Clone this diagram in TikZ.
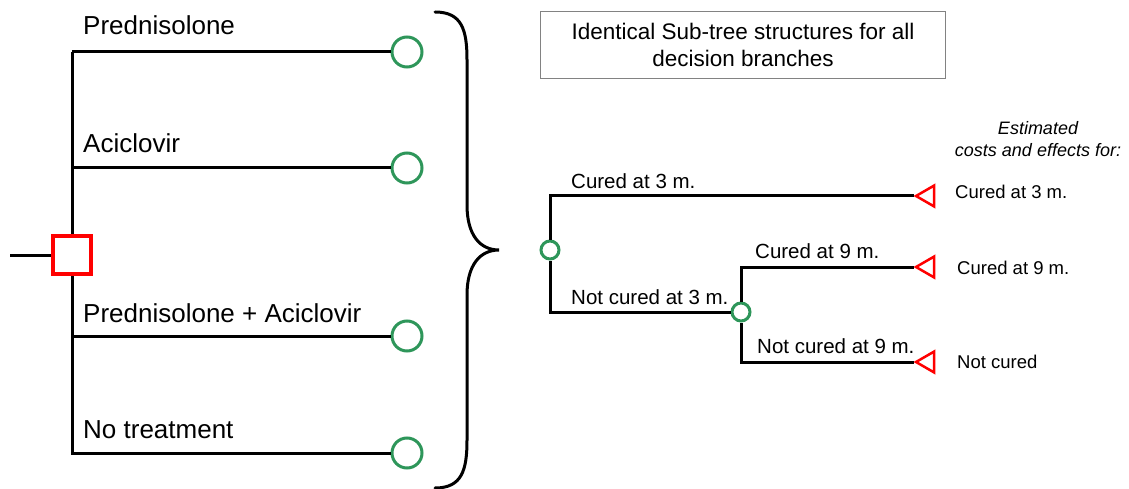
\documentclass[tikz,border=0pt]{standalone}
\usepackage{fontspec}
\setmainfont{Liberation Sans}
\usetikzlibrary{shapes.geometric}

\definecolor{chancegreen}{RGB}{46,150,90}
\definecolor{boxgray}{RGB}{130,130,130}

\tikzset{
  branch/.style={line width=3pt, black},
  decision/.style={draw=red, line width=4pt, minimum size=38pt, inner sep=0pt},
  chance/.style={circle, draw=chancegreen, line width=3pt, fill=white, inner sep=0pt},
  bigchance/.style={chance, minimum size=30pt},
  smallchance/.style={chance, minimum size=18pt},
  terminal/.style={regular polygon, regular polygon sides=3, shape border rotate=90,
    draw=red, line width=2.5pt, minimum size=24pt, inner sep=0pt},
  optlabel/.style={anchor=base west, inner sep=0pt, font=\fontsize{26}{30}\selectfont},
  treelabel/.style={anchor=base west, inner sep=0pt, font=\fontsize{20.5}{24}\selectfont},
  outlabel/.style={anchor=base west, inner sep=0pt, font=\fontsize{18.5}{22}\selectfont}
}

\begin{document}
\begin{tikzpicture}[x=1pt, y=-1pt]
    \useasboundingbox (0,0) rectangle (1129,489);
    % decision node and its options
    \node [decision] (dec) at (72,255) {};
    \coordinate (stub) at (10,255);
    \draw [branch] (stub) -- (dec);
    \coordinate (top) at (72,52);
    \coordinate (bottom) at (72,455);
    \draw [branch] (top) -- (dec.north)
                   (dec.south) -- (bottom);
    \node [bigchance] (predn) at (407,52) {};
    \node [bigchance] (acic) at (407,168) {};
    \node [bigchance] (both) at (407,336) {};
    \node [bigchance] (none) at (407,453) {};
    \coordinate (j2) at (72,168);
    \coordinate (j3) at (72,336);
    \draw [branch] (top) -- (predn)
                   (j2) -- (acic)
                   (j3) -- (both)
                   (bottom |- none) -- (none);
    \path (83,35)  node [optlabel] {Prednisolone}
          (83,153) node [optlabel] {Aciclovir}
          (83,322) node [optlabel] {Prednisolone + Aciclovir}
          (83,438) node [optlabel] {No treatment};
    % brace
    \draw [line width=3pt, line cap=round]
      (435,12) .. controls (462,12) and (467,30) .. (467,60) -- (467,205)
      .. controls (467,235) and (480,250) .. (499,250)
      .. controls (480,250) and (467,265) .. (467,295) -- (467,440)
      .. controls (467,470) and (462,488) .. (435,488);
    % note box
    \node [draw=boxgray, line width=1.5pt, minimum width=405pt, minimum height=67pt,
           align=center, font=\fontsize{22.5}{27}\selectfont] (note) at (743,45)
      {Identical Sub-tree structures for all\\decision branches};
    % sub-tree
    \node [smallchance] (ch1) at (550,250) {};
    \node [smallchance] (ch2) at (741,312) {};
    \node [terminal] (t3) at (928,196) {};
    \node [terminal] (t9) at (928,267) {};
    \node [terminal] (tn) at (928,362) {};
    \coordinate (a1) at (550,196);
    \coordinate (a2) at (550,312);
    \coordinate (b1) at (741,267);
    \coordinate (b2) at (741,362);
    \draw [branch] (ch1) -- (a1) -- (t3)
                   (ch1) -- (a2) -- (ch2)
                   (ch2) -- (b1) -- (t9)
                   (ch2) -- (b2) -- (tn);
    \path (571,189) node [treelabel] {Cured at 3 m.}
          (571,304) node [treelabel] {Not cured at 3 m.}
          (755,258) node [treelabel] {Cured at 9 m.}
          (757,353) node [treelabel] {Not cured at 9 m.};
    \path (955,198) node [outlabel] {Cured at 3 m.}
          (957,274) node [outlabel] {Cured at 9 m.}
          (957,368) node [outlabel] {Not cured};
    \node [align=center, font=\fontsize{18}{22}\itshape\selectfont] (est) at (1038,139)
      {Estimated\\costs and effects for:};
\end{tikzpicture}
\end{document}
